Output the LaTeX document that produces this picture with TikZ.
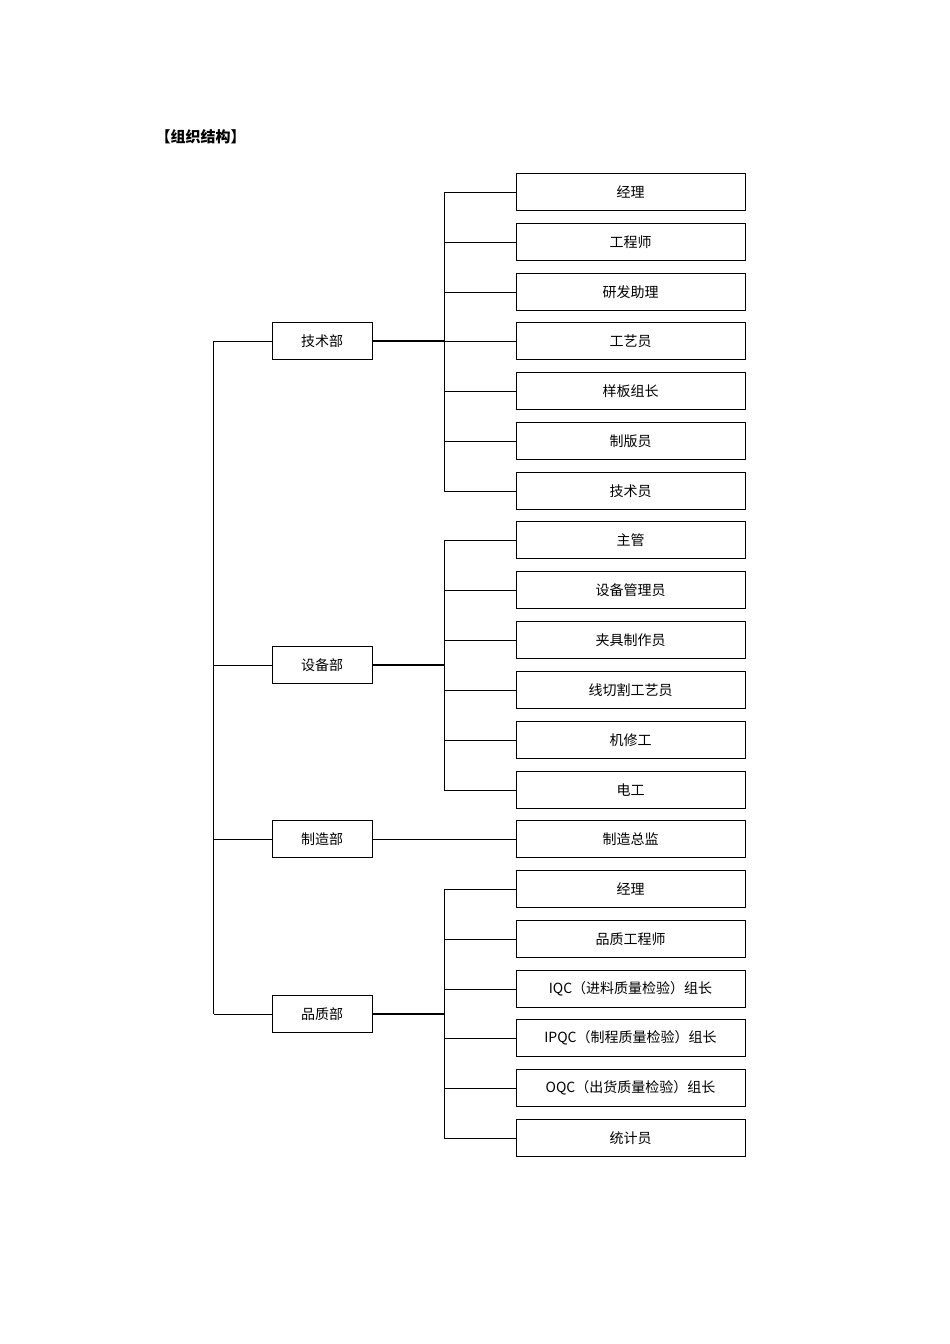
\documentclass[tikz,border=0pt]{standalone}
\usepackage{fontspec}
\setmainfont{Noto Sans CJK SC}
\begin{document}
\begin{tikzpicture}[x=1pt,y=-1pt,
  leaf/.style={draw,minimum width=229pt,minimum height=37pt,inner sep=0pt,font=\fontsize{14}{16}\selectfont},
  dept/.style={draw,minimum width=100pt,minimum height=37pt,inner sep=0pt,font=\fontsize{14}{16}\selectfont},
  ln/.style={line width=0.8pt}]
\useasboundingbox (0,0) rectangle (950,1344);
\node[anchor=west,font=\fontsize{15}{17}\selectfont\bfseries] (title) at (152,137) {【组织结构】};
\def\ys{{192,242,292,341,391,441,491,540,590,640,690,740,790,839,889,939,989,1038,1088,1138}}
\foreach \t [count=\i from 0] in {经理,工程师,研发助理,工艺员,样板组长,制版员,技术员,主管,设备管理员,夹具制作员,线切割工艺员,机修工,电工,制造总监,经理,品质工程师,IQC（进料质量检验）组长,IPQC（制程质量检验）组长,OQC（出货质量检验）组长,统计员}{
  \pgfmathsetmacro\yy{\ys[\i]}
  \node[leaf] (c\i) at (630.5,\yy) {\t};
}
\node[dept] (d1) at (322,341) {技术部};
\node[dept] (d2) at (322,665) {设备部};
\node[dept] (d3) at (322,839) {制造部};
\node[dept] (d4) at (322,1014) {品质部};
\coordinate (b1) at (444,341);
\coordinate (b2) at (444,665);
\coordinate (b4) at (444,1014);
\draw[ln] (d1.west) -- ++(-58,0) coordinate (t1);
\draw[ln] (d4.west) -- ++(-58,0) coordinate (t4);
\draw[ln] (t1) -- (t4);
\draw[ln] (d2.west) -- (d2.west -| t1);
\draw[ln] (d3.west) -- (d3.west -| t1);
\draw[line width=1.5pt] (d1.east) -- (b1);
\draw[line width=1.5pt] (d2.east) -- (b2);
\draw[line width=1.5pt] (d4.east) -- (b4);
\draw[ln] (d3.east) -- (c13.west);
\draw[ln] (c0.west -| b1) -- (c6.west -| b1);
\draw[ln] (c7.west -| b1) -- (c12.west -| b1);
\draw[ln] (c14.west -| b1) -- (c19.west -| b1);
\foreach \i in {0,...,12,14,15,16,17,18,19}{\draw[ln] (c\i.west) -- (c\i.west -| b1);}
\end{tikzpicture}
\end{document}
